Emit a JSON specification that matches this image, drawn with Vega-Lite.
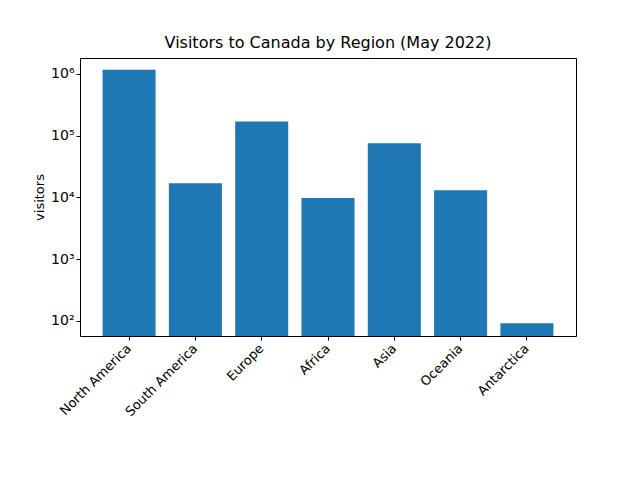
{
  "$schema": "https://vega.github.io/schema/vega-lite/v6.json",
  "width": 496,
  "height": 278,
  "autosize": "none",
  "padding": {"left": 80, "top": 58, "right": 64, "bottom": 144},
  "background": "white",
  "title": {"text": "Visitors to Canada by Region (May 2022)", "font": "DejaVu Sans", "fontSize": 16, "fontWeight": "normal", "offset": 7},
  "config": {
    "font": "DejaVu Sans",
    "view": {"stroke": "black", "strokeWidth": 1},
    "axis": {"labelFont": "DejaVu Sans", "labelFontSize": 13, "labelColor": "black", "titleFont": "DejaVu Sans", "titleFontWeight": "normal", "titleFontSize": 13, "titleColor": "black", "tickColor": "black", "domain": false, "grid": false, "tickSize": 4}
  },
  "data": {
    "values": [
      {"region": "North America", "visitors": 1160000},
      {"region": "South America", "visitors": 16900},
      {"region": "Europe", "visitors": 169000},
      {"region": "Africa", "visitors": 9800},
      {"region": "Asia", "visitors": 75000},
      {"region": "Oceania", "visitors": 13000},
      {"region": "Antarctica", "visitors": 92}
    ]
  },
  "mark": {"type": "bar", "color": "#1f77b4"},
  "encoding": {
    "x": {
      "field": "region", "type": "nominal", "sort": null,
      "scale": {"paddingInner": 0.2, "paddingOuter": 0.34},
      "axis": {"title": null, "labelAngle": -45, "labelAlign": "right", "labelBaseline": "middle", "labelPadding": 6}
    },
    "y": {
      "field": "visitors", "type": "quantitative",
      "scale": {"type": "log", "domain": [57, 1800000], "nice": false},
      "axis": {
        "title": "visitors",
        "values": [100, 1000, 10000, 100000, 1000000],
        "labelExpr": "'10' + replace(replace(replace(replace(replace(format(log(datum.value)/LN10, '.0f'), '2', '²'), '3', '³'), '4', '⁴'), '5', '⁵'), '6', '⁶')",
        "labelFontSize": 14
      }
    },
    "y2": {"datum": 57}
  }
}
